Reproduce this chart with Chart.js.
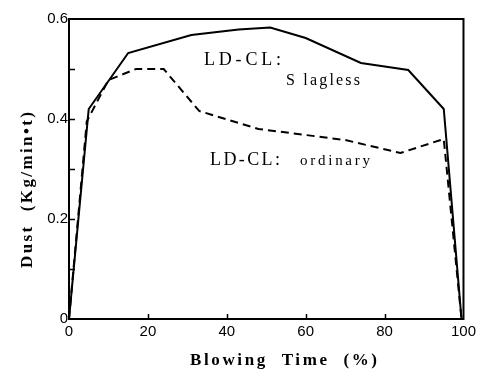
<!DOCTYPE html>
<html>
<head>
<meta charset="utf-8">
<script src="https://cdn.jsdelivr.net/npm/chart.js@4/dist/chart.umd.min.js"></script>
<style>
	html, body { margin: 0; padding: 0; background: #fff; }
	#wrap { width: 480px; height: 369px; position: relative; }
</style>
</head>
<body>
<div id="wrap"><canvas id="c"></canvas></div>
<script>
/* dust evolution during blowing */
const slaglessTime = [0, 5, 15, 31, 43, 51, 60, 74, 86, 95, 99.5];
const slaglessDust = [0, 0.42, 0.532, 0.568, 0.579, 0.583, 0.562, 0.512, 0.498, 0.42, 0];
const ordinaryTime = [0, 4.5, 10, 17, 24, 33, 48, 70, 84, 95, 99.5];
const ordinaryDust = [0, 0.395, 0.478, 0.5, 0.5, 0.416, 0.38, 0.358, 0.332, 0.36, 0];
const xTickLabels = [0, 20, 40, 60, 80, 100];
const yTickLabels = [0, 0.2, 0.4, 0.6];

const toPoints = (xs, ys) => xs.map((x, i) => ({ x: x, y: ys[i] }));

// draw text from x so that it spans the given width (wide typewriter spacing of the scan)
function spreadText(ctx, text, x, y, width) {
	ctx.letterSpacing = '0px';
	const w = ctx.measureText(text).width;
	const gap = Math.max(0, (width - w) / (text.length - 1));
	ctx.letterSpacing = gap + 'px';
	ctx.fillText(text, x, y);
	ctx.letterSpacing = '0px';
}

const frame = {
	id: 'frame',
	afterDraw(chart) {
		const ctx = chart.ctx;
		const a = chart.chartArea;
		const xs = chart.scales.x;
		const ys = chart.scales.y;
		ctx.save();
		ctx.strokeStyle = '#000';
		ctx.lineWidth = 2;
		ctx.strokeRect(a.left, a.top, a.right - a.left, a.bottom - a.top);
		// inward ticks
		ctx.lineWidth = 1.5;
		ctx.beginPath();
		for (let v = 0.1; v < 0.6; v += 0.1) {
			const y = Math.round(ys.getPixelForValue(v)) + 0.5;
			ctx.moveTo(a.left, y);
			ctx.lineTo(a.left + 6, y);
		}
		[20, 40, 60, 80].forEach(v => {
			const x = Math.round(xs.getPixelForValue(v)) + 0.5;
			ctx.moveTo(x, a.bottom);
			ctx.lineTo(x, a.bottom - 5);
		});
		ctx.stroke();

		ctx.fillStyle = '#000';
		ctx.textBaseline = 'middle';
		ctx.textAlign = 'left';
		ctx.font = 'bold 17px "Liberation Serif", "DejaVu Serif", serif';
		spreadText(ctx, 'Blowing  Time  (%)', 190, 361, 187);
		ctx.save();
		ctx.translate(28, 268);
		ctx.rotate(-Math.PI / 2);
		spreadText(ctx, 'Dust  (Kg/min•t)', 0, 0, 156);
		ctx.restore();

		ctx.font = '18px "Liberation Serif", "DejaVu Serif", serif';
		spreadText(ctx, 'LD-CL:', 204, 60, 77);
		spreadText(ctx, 'LD-CL:', 210, 160, 70);
		ctx.font = '16px "Liberation Serif", "DejaVu Serif", serif';
		spreadText(ctx, 'S lagless', 286, 81, 74);
		ctx.font = '15px "Liberation Serif", "DejaVu Serif", serif';
		spreadText(ctx, 'ordinary', 300, 161, 70);
		ctx.restore();
	},
};

new Chart(document.getElementById('c').getContext('2d'), {
	type: 'line',
	data: {
		datasets: [
			{
				label: 'LD-CL: Slagless',
				data: toPoints(slaglessTime, slaglessDust),
				borderColor: '#000',
				borderWidth: 2,
				pointRadius: 0,
				tension: 0,
			},
			{
				label: 'LD-CL: ordinary',
				data: toPoints(ordinaryTime, ordinaryDust),
				borderColor: '#000',
				borderWidth: 2,
				borderDash: [8, 5],
				pointRadius: 0,
				tension: 0,
			},
		],
	},
	options: {
		responsive: true,
		maintainAspectRatio: false,
		animation: false,
		layout: { padding: { left: 0, right: 12, top: 19, bottom: 0 } },
		plugins: { legend: { display: false }, tooltip: { enabled: false } },
		scales: {
			x: {
				type: 'linear',
				min: 0,
				max: 100,
				grid: { display: false, drawTicks: false },
				border: { display: false },
				afterBuildTicks(scale) {
					scale.ticks = xTickLabels.map(v => ({ value: v }));
				},
				afterFit(scale) { scale.height = 50; },
				ticks: {
					padding: 4,
					color: '#000',
					font: { family: '"Liberation Sans", Arial, sans-serif', size: 15 },
					maxRotation: 0,
				},
			},
			y: {
				min: 0,
				max: 0.6,
				grid: { display: false, drawTicks: false },
				border: { display: false },
				afterBuildTicks(scale) {
					scale.ticks = yTickLabels.map(v => ({ value: v }));
				},
				afterFit(scale) { scale.width = 69; },
				ticks: {
					padding: 1,
					color: '#000',
					font: { family: '"Liberation Sans", Arial, sans-serif', size: 15 },
					callback: v => (v === 0 ? '0' : v.toFixed(1)),
				},
			},
		},
	},
	plugins: [frame],
});
</script>
</body>
</html>
